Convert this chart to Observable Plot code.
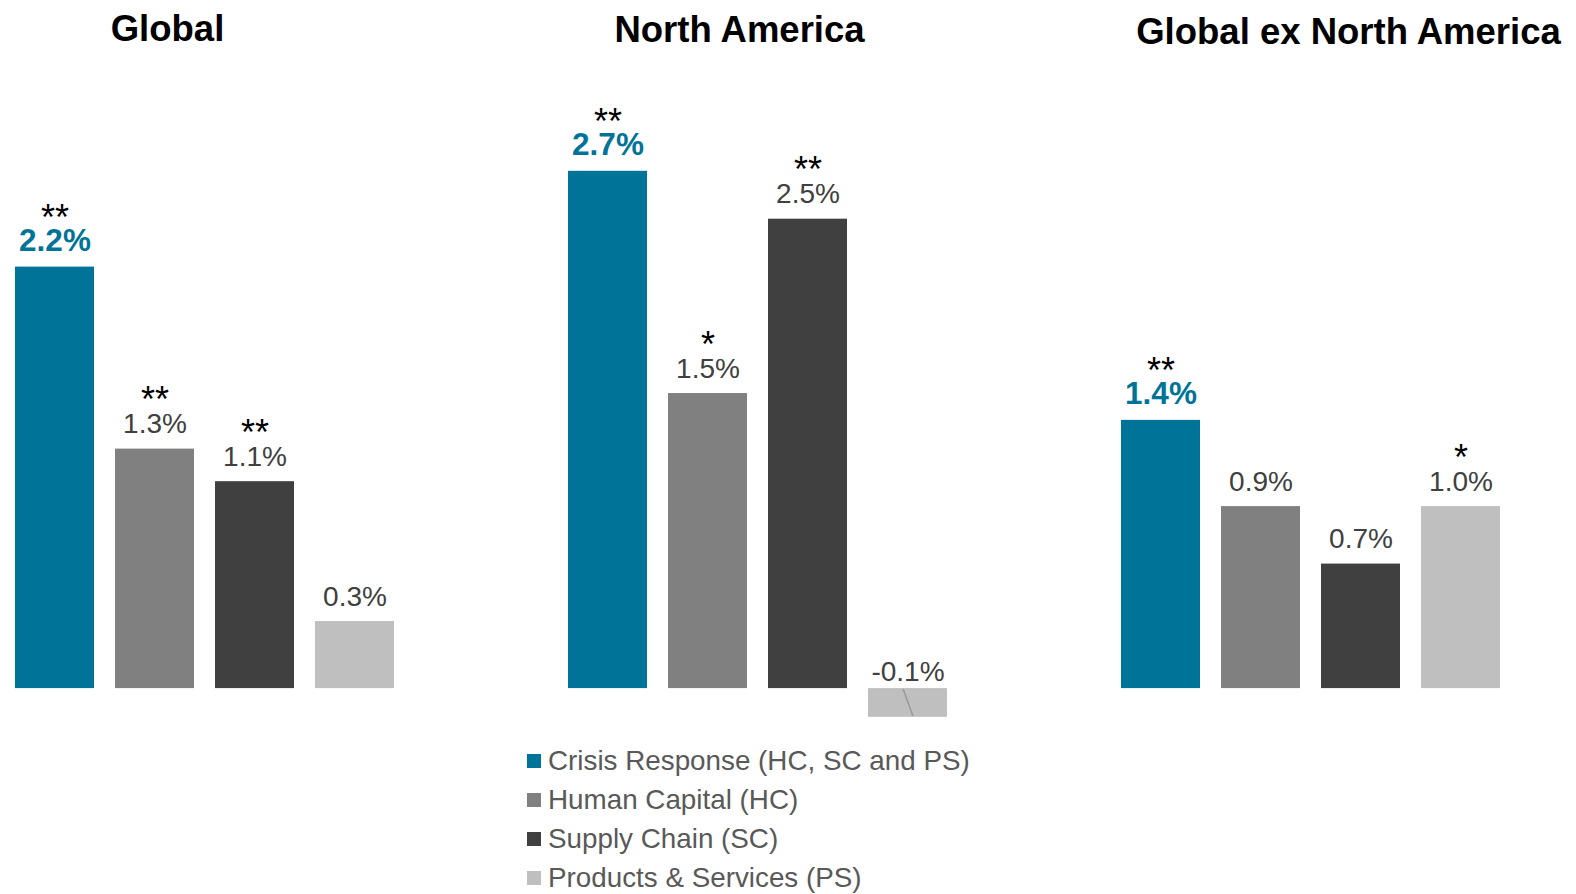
<!DOCTYPE html>
<html>
<head>
<meta charset="utf-8">
<script src="https://cdn.jsdelivr.net/npm/d3@7"></script>
<script src="https://cdn.jsdelivr.net/npm/@observablehq/plot@0.6"></script>
<style>
  body { margin: 0; background: #fff; font-family: "Liberation Sans", Arial, sans-serif; }
  #chart svg { display: block; }
  #legend { margin-left: 527px; padding-top: 5px; }
  .lg-row { display: flex; align-items: center; height: 39px; font-size: 27.8px; color: #595959; white-space: nowrap; }
  .lg-sw { width: 14px; height: 14px; margin-right: 7px; flex: none; }
</style>
</head>
<body>
<div id="chart"></div>
<div id="legend"></div>
<script>
const regions = ["Global", "North America", "Global ex North America"];
const categories = ["Crisis Response (HC, SC and PS)", "Human Capital (HC)", "Supply Chain (SC)", "Products & Services (PS)"];
const colors = ["#007398", "#808080", "#404040", "#bfbfbf"];

const globalValues = [2.2, 1.25, 1.08, 0.35];
const northAmericaValues = [2.7, 1.54, 2.45, -0.15];
const exNorthAmericaValues = [1.4, 0.95, 0.65, 0.95];

const globalLabels = ["2.2%", "1.3%", "1.1%", "0.3%"];
const northAmericaLabels = ["2.7%", "1.5%", "2.5%", "-0.1%"];
const exNorthAmericaLabels = ["1.4%", "0.9%", "0.7%", "1.0%"];

const globalStars = ["**", "**", "**", ""];
const northAmericaStars = ["**", "*", "**", ""];
const exNorthAmericaStars = ["**", "", "", "*"];

const seriesValues = [globalValues, northAmericaValues, exNorthAmericaValues];
const seriesLabels = [globalLabels, northAmericaLabels, exNorthAmericaLabels];
const seriesStars = [globalStars, northAmericaStars, exNorthAmericaStars];

const data = [];
regions.forEach((r, i) => {
  categories.forEach((c, j) => {
    data.push({region: r, category: c, value: seriesValues[i][j], label: seriesLabels[i][j], stars: seriesStars[i][j], first: j === 0});
  });
});

const font = '"Liberation Sans", Arial, sans-serif';
const pos = data.filter(d => d.value >= 0);
const neg = data.filter(d => d.value < 0);

const titleDx = [-37, -18, 38];
const titleDy = [-35, -34, -32];

const chart = Plot.plot({
  width: 1576,
  height: 736,
  marginLeft: 14,
  marginRight: 75.5,
  marginTop: 75,
  marginBottom: 0,
  style: {fontFamily: font, background: "#fff"},
  fx: {domain: regions, paddingInner: 0.312, paddingOuter: 0, axis: null},
  x: {domain: categories, paddingInner: 0.214, paddingOuter: 0, axis: null},
  y: {domain: [-0.25, 3.2], axis: null},
  color: {domain: categories, range: colors},
  marks: [
    Plot.barY(data, {fx: "region", x: "category", y: "value", fill: "category"}),
    Plot.ruleX(neg, {
      fx: "region", x: "category", y1: 0, y2: "value", stroke: "#999", strokeWidth: 1.5,
      render(index, scales, values, dims, context, next) {
        const g = next(index, scales, values, dims, context);
        g.querySelectorAll("line").forEach(l => {
          const x = +l.getAttribute("x1");
          const y1 = +l.getAttribute("y1"), y2 = +l.getAttribute("y2");
          l.setAttribute("transform", `rotate(-20 ${x} ${(y1 + y2) / 2})`);
        });
        return g;
      }
    }),
    // value labels, regular
    Plot.text(pos.filter(d => !d.first), {fx: "region", x: "category", y: "value", text: "label", lineAnchor: "bottom", dy: -16, fontSize: 28, fill: "#404040"}),
    Plot.text(neg, {fx: "region", x: "category", y: () => 0, text: "label", lineAnchor: "bottom", dy: -8, fontSize: 28, fill: "#404040"}),
    // value labels, bold teal
    Plot.text(pos.filter(d => d.first), {fx: "region", x: "category", y: "value", text: "label", lineAnchor: "bottom", dy: -16, fontSize: 31.5, fontWeight: "bold", fill: "#007398"}),
    // significance stars
    Plot.text(pos.filter(d => d.stars), {fx: "region", x: "category", y: "value", text: "stars", lineAnchor: "bottom", dy: -37, fontSize: 36, fill: "#000", style: {letterSpacing: "2px"}}),
    // panel titles
    ...regions.map((r, i) => Plot.text([r], {fx: d => d, text: d => d, frameAnchor: "top", lineAnchor: "bottom", dx: titleDx[i], dy: titleDy[i], fontSize: 36.5, fontWeight: "bold", fill: "#000"}))
  ]
});
document.getElementById("chart").appendChild(chart);

const legend = document.getElementById("legend");
categories.forEach((c, i) => {
  const row = document.createElement("div");
  row.className = "lg-row";
  const sw = document.createElement("span");
  sw.className = "lg-sw";
  sw.style.background = colors[i];
  const t = document.createElement("span");
  t.textContent = c;
  row.appendChild(sw);
  row.appendChild(t);
  legend.appendChild(row);
});
</script>
</body>
</html>
